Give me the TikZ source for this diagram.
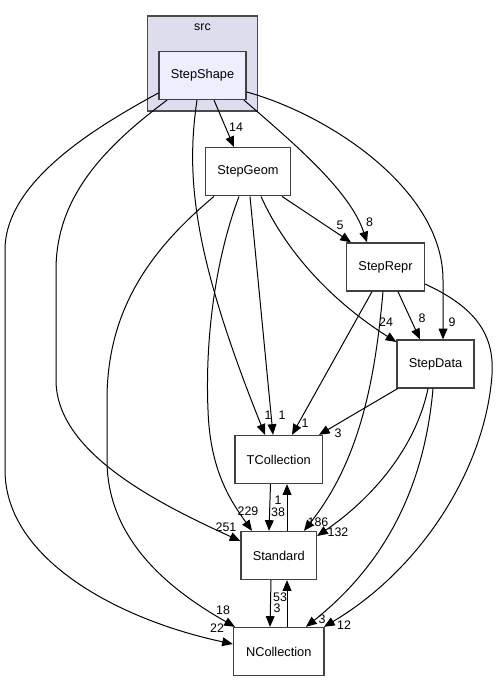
\documentclass[tikz,border=0pt]{standalone}
\usepackage{fontspec}
\setmainfont{Liberation Sans}
\usetikzlibrary{arrows.meta,calc}
\definecolor{clusterfill}{HTML}{DDDDEE}
\definecolor{clusterline}{HTML}{4A4A4A}
\definecolor{nodefill}{HTML}{EEEEFF}
\definecolor{boxline}{HTML}{404040}
\begin{document}
\begin{tikzpicture}[x=0.75pt,y=-0.75pt,
  box/.style={draw=boxline,line width=1pt,fill=white,minimum height=36pt,inner sep=0pt,
     font=\fontsize{9.6pt}{11pt}\selectfont},
  dep/.style={line width=0.75pt,-{Triangle[length=8pt,width=6.6pt]}},
  lbl/.style={font=\fontsize{9.3pt}{10pt}\selectfont,inner sep=0pt}]
\useasboundingbox (0,0) rectangle (498,681);
% cluster
\path[fill=clusterfill,draw=clusterline,line width=1pt] (147.5,16) rectangle (257.5,111);
\node[lbl] (srclabel) at (202.5,27) {src};
% nodes
\node[box,fill=nodefill,minimum width=65.25pt] (StepShape) at (202.5,75.5) {StepShape};
\node[box,minimum width=63.4pt] (StepGeom) at (248,171.75) {StepGeom};
\node[box,minimum width=58.5pt] (StepRepr) at (385.5,267) {StepRepr};
\node[box,minimum width=57.75pt] (StepData) at (435.5,364) {StepData};
\node[box,minimum width=65.6pt] (TCollection) at (278.75,459.5) {TCollection};
\node[box,minimum width=56.6pt] (Standard) at (278.75,555.5) {Standard};
\node[box,minimum width=67.9pt] (NCollection) at (278.75,651.5) {NCollection};
% edges from StepShape
\draw[dep] (StepShape.south -| 214,0) -- (StepGeom.north -| 234,0);
\draw[dep] (StepShape.south -| 244,0) .. controls (290,140) and (350,190) .. (StepRepr.north -| 367,0);
\draw[dep] (StepShape.east |- 0,92) .. controls (330,115) and (443,190) .. (443,280) -- (StepData.north -| 443,0);
\draw[dep] (StepShape.south -| 197,0) .. controls (185,180) and (195,260) .. (TCollection.north -| 265,0);
\draw[dep] (StepShape.south -| 167,0) .. controls (100,150) and (56,200) .. (56,270) -- (56,380) .. controls (56,450) and (150,500) .. (Standard.west |- 0,541);
\draw[dep] (StepShape.west |- 0,93) .. controls (100,125) and (5,180) .. (5,250) -- (5,470) .. controls (5,560) and (120,620) .. (NCollection.west |- 0,644);
% edges from StepGeom
\draw[dep] (StepGeom.south -| 282,0) -- (StepRepr.north -| 351,0);
\draw[dep] (StepGeom.south -| 261,0) .. controls (285,250) and (330,300) .. (StepData.west |- 0,342);
\draw[dep] (StepGeom.south -| 250,0) -- (TCollection.north -| 273,0);
\draw[dep] (StepGeom.south -| 239,0) .. controls (215,260) and (205,340) .. (208,410) .. controls (210,470) and (230,500) .. (Standard.north -| 252,0);
\draw[dep] (StepGeom.south -| 214,0) .. controls (150,250) and (107,310) .. (107,400) -- (107,460) .. controls (107,540) and (170,590) .. (NCollection.north -| 235,0);
% edges from StepRepr
\draw[dep] (StepRepr.south -| 372,0) -- (TCollection.north -| 292,0);
\draw[dep] (StepRepr.south -| 398,0) -- (StepData.north -| 420,0);
\draw[dep] (StepRepr.south -| 383,0) .. controls (375,380) and (360,460) .. (Standard.north -| 304,0);
\draw[dep] (StepRepr.east |- 0,284) .. controls (470,305) and (495,330) .. (492,375) .. controls (485,470) and (420,570) .. (NCollection.north -| 324,0);
% edges from StepData
\draw[dep] (StepData.south -| 397.5,0) -- (TCollection.north -| 319,0);
\draw[dep] (StepData.south -| 428,0) .. controls (415,450) and (370,500) .. (Standard.east |- 0,536);
\draw[dep] (StepData.south -| 433,0) .. controls (425,480) and (390,560) .. (NCollection.north -| 306,0);
% bottom edges
\draw[dep] (TCollection.south -| 270.5,0) -- (Standard.north -| 269,0);
\draw[dep] (Standard.north -| 287,0) -- (TCollection.south -| 287,0);
\draw[dep] (Standard.south -| 271,0) -- (NCollection.north -| 270,0);
\draw[dep] (NCollection.north -| 287,0) -- (Standard.south -| 287,0);
% labels
\node[lbl] (l14) at (236,127) {14};
\node[lbl] (l8a) at (369.5,222.5) {8};
\node[lbl] (l9) at (452,322) {9};
\node[lbl] (l1a) at (268,415) {1};
\node[lbl] (l251) at (226,527) {251};
\node[lbl] (l22) at (217,628) {22};
\node[lbl] (l5) at (340,225) {5};
\node[lbl] (l24) at (386,322) {24};
\node[lbl] (l1b) at (282,415) {1};
\node[lbl] (l229) at (248,511) {229};
\node[lbl] (l18) at (223,610) {18};
\node[lbl] (l1c) at (305,423) {1};
\node[lbl] (l8b) at (422,318) {8};
\node[lbl] (l186) at (318,522) {186};
\node[lbl] (l12) at (344,625) {12};
\node[lbl] (l3a) at (338,433) {3};
\node[lbl] (l132) at (338,532) {132};
\node[lbl] (l3b) at (322,619) {3};
\node[lbl] (l38) at (278,512) {38};
\node[lbl] (l1d) at (278,500) {1};
\node[lbl] (l3c) at (277,608) {3};
\node[lbl] (l53) at (280,597) {53};
\end{tikzpicture}
\end{document}
